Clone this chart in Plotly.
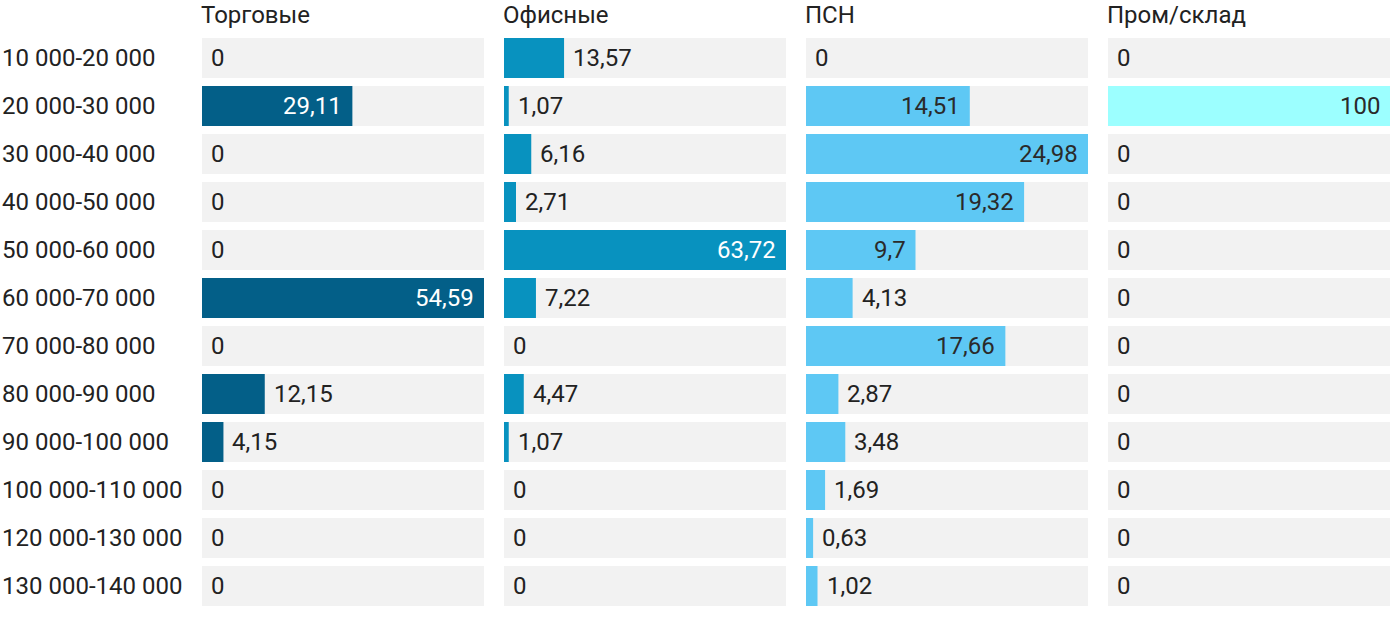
import plotly.graph_objects as go

categories = ["10 000-20 000", "20 000-30 000", "30 000-40 000", "40 000-50 000",
              "50 000-60 000", "60 000-70 000", "70 000-80 000", "80 000-90 000",
              "90 000-100 000", "100 000-110 000", "120 000-130 000", "130 000-140 000"]

panel_titles = ["Торговые", "Офисные", "ПСН", "Пром/склад"]

torgovye = [0, 29.11, 0, 0, 0, 54.59, 0, 12.15, 4.15, 0, 0, 0]
ofisnye = [13.57, 1.07, 6.16, 2.71, 63.72, 7.22, 0, 4.47, 1.07, 0, 0, 0]
psn = [0, 14.51, 24.98, 19.32, 9.7, 4.13, 17.66, 2.87, 3.48, 1.69, 0.63, 1.02]
prom_sklad = [0, 100, 0, 0, 0, 0, 0, 0, 0, 0, 0, 0]

series = [torgovye, ofisnye, psn, prom_sklad]
bar_colors = ["#035f88", "#0892bf", "#5ec8f4", "#9cffff"]
inside_text_colors = ["#ffffff", "#ffffff", "#2a2a2a", "#2a2a2a"]
dark_text = "#222222"
grey = "#f2f2f2"
FONT = "Roboto"
FS = 24

W, H = 1400, 622
panel_px = [(202, 484), (504, 786), (806, 1088), (1108, 1390)]
top_px, bottom_px = 34, 610

fig = go.Figure()
annotations = []

for i, (vals, title) in enumerate(zip(series, panel_titles)):
    n = i + 1
    xa = "x" if n == 1 else f"x{n}"
    ya = "y" if n == 1 else f"y{n}"
    vmax = max(vals)
    fig.add_trace(go.Bar(y=categories, x=[vmax] * len(categories), orientation="h",
                         marker=dict(color=grey, line=dict(width=0)), width=40 / 48,
                         xaxis=xa, yaxis=ya, hoverinfo="skip", showlegend=False))
    fig.add_trace(go.Bar(y=categories, x=vals, orientation="h",
                         marker=dict(color=bar_colors[i], line=dict(width=0)), width=40 / 48,
                         xaxis=xa, yaxis=ya, showlegend=False))
    for c, v in zip(categories, vals):
        label = f"{v:g}".replace(".", ",")
        inside = v / vmax > 0.3
        annotations.append(dict(
            x=v, y=c, xref=xa, yref=ya, text=label, showarrow=False,
            xanchor="right" if inside else "left", xshift=-8 if inside else 7,
            yanchor="middle",
            font=dict(family=FONT, size=FS, color=inside_text_colors[i] if inside else dark_text)))
    annotations.append(dict(
        x=0, y=1 - 15 / H, xref=f"{xa} domain", yref="paper", text=title,
        showarrow=False, xanchor="left", yanchor="middle", xshift=-3,
        font=dict(family=FONT, size=FS, color=dark_text)))
    x0, x1 = panel_px[i]
    fig.update_layout(**{
        ("xaxis" if n == 1 else f"xaxis{n}"): dict(
            domain=[x0 / W, x1 / W], range=[0, vmax], visible=False, fixedrange=True),
        ("yaxis" if n == 1 else f"yaxis{n}"): dict(
            domain=[1 - bottom_px / H, 1 - top_px / H], anchor=xa,
            range=[len(categories) - 0.5, -0.5], visible=False, fixedrange=True),
    })

for c in categories:
    annotations.append(dict(
        x=0, y=c, xref="paper", yref="y", text=c, showarrow=False,
        xanchor="left", yanchor="middle", xshift=0,
        font=dict(family=FONT, size=FS, color=dark_text)))

fig.update_layout(
    width=W, height=H, barmode="overlay",
    margin=dict(l=0, r=0, t=0, b=0),
    paper_bgcolor="white", plot_bgcolor="white",
    font=dict(family=FONT, size=FS, color=dark_text),
    annotations=annotations,
)

fig.write_html("out.html", config={"displayModeBar": False},
               post_script="document.body.style.margin='0';document.body.style.overflow='hidden';")
